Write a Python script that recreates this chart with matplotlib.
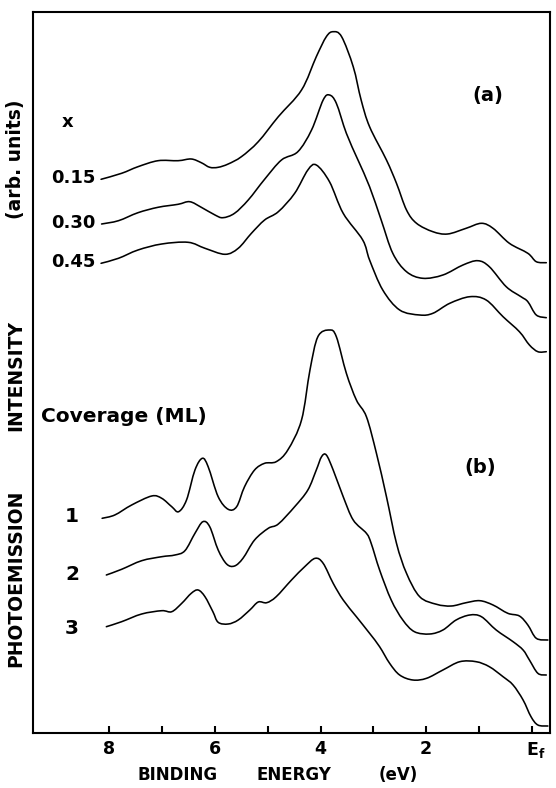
import matplotlib
matplotlib.use("Agg")
import matplotlib.pyplot as plt
from matplotlib.path import Path
from matplotlib.patches import PathPatch
import matplotlib.transforms as mtransforms
import numpy as np

# ---- data: binding energy (eV) and intensity (arb. units) ----
a1_E = [8.16,7.77,7.46,7.08,6.70,6.45,6.26,6.10,5.94,5.75,5.50,5.18,4.80,4.36,4.08,3.89,3.76,3.60,3.38,3.23,3.07,2.75,2.56,2.37,2.18,1.87,1.59,1.24,0.95,0.73,0.42,0.07,-0.09,-0.28]
a1_I = [553.7,559.7,566.3,572.3,572.3,574,570.3,565.7,565.7,569,576.3,591.3,616.3,643,676.3,696.3,701.3,696.3,666.3,633,606.3,573,549.7,523,509.7,501.3,499,504.7,509.7,504.7,489.7,479.7,471.3,470.3]

a2_E = [8.15,7.83,7.46,7.08,6.70,6.48,6.26,6.00,5.85,5.63,5.37,5.06,4.74,4.43,4.17,3.95,3.83,3.70,3.51,3.29,3.07,2.85,2.63,2.37,2.06,1.68,1.30,1.02,0.80,0.48,0.20,0.07,-0.09,-0.28]
a2_I = [509,512.3,520.3,525.7,528.7,531.3,525.7,518,515.3,519.7,533,553.7,573,581.3,603,633,638,629.7,599.7,573,546.3,513,479.7,461.3,454.7,458,468,472.3,466.3,446.3,436.3,431.3,418,415.3]

a3_E = [8.16,7.83,7.46,7.01,6.51,6.19,5.81,5.56,5.31,5.06,4.80,4.49,4.24,4.08,3.83,3.57,3.20,3.07,2.82,2.50,2.12,1.87,1.55,1.17,0.86,0.54,0.23,0.04,-0.12,-0.28]
a3_I = [469.7,474.7,483,489,490.7,484.7,478.7,484.7,499.7,513,521.3,539.7,563,568,551.3,519.7,493,473,443,423,418,419.7,429.7,436.3,433,416.3,401.3,388,381.3,381.3]

b1_E = [8.14,7.90,7.58,7.20,7.01,6.82,6.69,6.54,6.38,6.24,6.13,5.94,5.75,5.59,5.44,5.25,5.06,4.84,4.62,4.36,4.20,4.05,3.83,3.70,3.51,3.32,3.13,2.94,2.75,2.56,2.37,2.12,1.80,1.52,1.24,0.98,0.73,0.45,0.23,0.07,-0.09,-0.31]
b1_I = [214.7,218,228,237,234.7,226.3,221.3,233,263,274.7,266.3,236.3,223.7,226.3,246.3,263,269.7,271.3,283,313,363,396.3,403,396.3,359.7,333,316.3,279.7,236.3,189.7,159.7,136.3,128.7,127,130.3,132.3,128,119.7,117,108,94.7,93]

b2_E = [8.06,7.77,7.39,7.01,6.76,6.57,6.38,6.23,6.10,5.94,5.78,5.63,5.47,5.25,4.99,4.80,4.49,4.24,4.08,3.98,3.89,3.76,3.57,3.38,3.13,3.04,2.88,2.66,2.44,2.22,1.93,1.68,1.43,1.17,0.95,0.67,0.35,0.16,0.04,-0.12,-0.28]
b2_I = [158,163.7,172.3,176.3,178,182.3,199.7,211.3,206.3,183,169,167,174.7,193,204.7,209,226.3,243,263,276.3,278,263,236.3,213,199.7,189.7,163,133,113,101.3,99,103,113,118,116.3,103,91.3,83,73,59.7,58]

b3_E = [8.06,7.77,7.39,7.01,6.82,6.63,6.45,6.32,6.19,6.04,5.94,5.75,5.56,5.34,5.18,5.02,4.84,4.55,4.30,4.10,3.95,3.76,3.57,3.32,3.07,2.88,2.69,2.50,2.25,1.99,1.68,1.36,1.05,0.80,0.54,0.35,0.16,0.01,-0.12,-0.31]
b3_I = [106.3,111.3,119,122.3,121.3,129.7,139.7,143,136.3,121.3,110.7,109,113,123,131,130.3,136.3,153,166.3,174.7,169.7,149.7,133,116.3,99.7,86.3,69.7,58,53,54.7,63,71.3,71.3,66.3,56.3,48,33,16.3,8,7]

x_labels_a = ["0.15", "0.30", "0.45"]
coverage_labels = ["1", "2", "3"]
major_ticks = [8, 6, 4, 2, 0]
major_labels = ["8", "6", "4", "2", "E$_\\mathbf{f}$"]
minor_ticks = [7, 5, 3, 1]

W, H = 556, 788
fig = plt.figure(figsize=(W / 100, H / 100), dpi=100)
ax = fig.add_axes([33 / W, 1 - 733 / H, (550 - 33) / W, (733 - 12) / H])


def smooth_curve(ax, xs, ys, **kw):
    """Draw a smooth (Catmull-Rom -> cubic Bezier) curve through the data points."""
    p = np.column_stack([xs, ys]).astype(float)
    n = len(p)
    verts = [p[0]]
    codes = [Path.MOVETO]
    for i in range(n - 1):
        p0 = p[i - 1] if i > 0 else p[i]
        p1 = p[i]
        p2 = p[i + 1]
        p3 = p[i + 2] if i + 2 < n else p[i + 1]
        c1 = p1 + (p2 - p0) / 6.0
        c2 = p2 - (p3 - p1) / 6.0
        verts += [c1, c2, p2]
        codes += [Path.CURVE4] * 3
    patch = PathPatch(Path(verts, codes), facecolor="none", **kw)
    ax.add_patch(patch)


for E, I in [(a1_E, a1_I), (a2_E, a2_I), (a3_E, a3_I), (b1_E, b1_I), (b2_E, b2_I), (b3_E, b3_I)]:
    smooth_curve(ax, E, I, edgecolor="black", lw=1.15, capstyle="round", joinstyle="round")

ax.set_xlim(9.45, -0.35)
ax.set_ylim(0, 721)
ax.set_xticks(major_ticks)
ax.set_xticklabels(major_labels, fontsize=12.5, fontweight="bold")
ax.set_xticks(minor_ticks, minor=True)
ax.tick_params(axis="x", which="both", direction="in", length=5, width=1.5, pad=5)
ax.set_yticks([])
for s in ax.spines.values():
    s.set_linewidth(1.5)
# E_f label sits slightly right of its tick
lab = ax.get_xticklabels()[-1]
lab.set_transform(lab.get_transform() + mtransforms.ScaledTranslation(4 / 100, 0, fig.dpi_scale_trans))


def ftext(x, y, s, **kw):
    fig.text(x / W, 1 - y / H, s, fontweight="bold", **kw)


# curve labels
ftext(68, 122, "x", fontsize=13, ha="center", va="center")
for lab_s, yy in zip(x_labels_a, [178, 223, 262]):
    ftext(95, yy, lab_s, fontsize=13, ha="right", va="center")
ftext(41, 417, "Coverage (ML)", fontsize=14.5, ha="left", va="center")
for lab_s, yy in zip(coverage_labels, [517, 574, 628]):
    ftext(72, yy, lab_s, fontsize=14.5, ha="center", va="center")
ftext(488, 95, "(a)", fontsize=14, ha="center", va="center")
ftext(480, 467, "(b)", fontsize=14, ha="center", va="center")

# y label pieces
ftext(16, 159, "(arb. units)", fontsize=13.5, rotation=90, ha="center", va="center")
ftext(16, 375, "INTENSITY", fontsize=13.5, rotation=90, ha="center", va="center")
ftext(16, 578, "PHOTOEMISSION", fontsize=13.5, rotation=90, ha="center", va="center")

# x label pieces
ftext(178, 775, "BINDING", fontsize=12, ha="center", va="center")
ftext(294, 775, "ENERGY", fontsize=12, ha="center", va="center")
ftext(398, 775, "(eV)", fontsize=12, ha="center", va="center")

fig.savefig("out.png", dpi=100)
